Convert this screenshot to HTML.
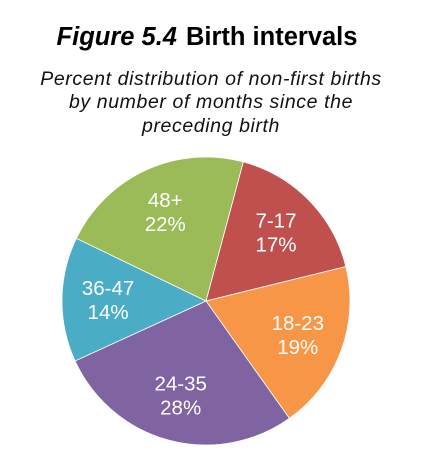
<!DOCTYPE html>
<html><head><meta charset="utf-8"><style>
body{margin:0;width:430px;height:458px;background:#fff;font-family:"Liberation Sans",Arial,sans-serif;overflow:hidden}
</style></head><body>
<svg width="430" height="458">
<text x="207" y="45" text-anchor="middle" font-size="25.5" font-weight="bold" fill="#000"><tspan font-style="italic">Figure 5.4</tspan><tspan dx="9">Birth intervals</tspan></text>
<g font-size="19.5" font-style="italic" fill="#111" text-anchor="middle" letter-spacing="0.6">
<text x="211" y="85">Percent distribution of non-first births</text>
<text x="211" y="108">by number of months since the</text>
<text x="211" y="132">preceding birth</text>
</g>
<g id="pie"></g>
</svg>
<script>
const categories=["7-17","18-23","24-35","36-47","48+"];
const values=[17,19,28,14,22];
const colors=["#c0504d","#f79646","#8064a2","#4bacc6","#9bbb59"];
const cx=206,cy=301,r=144,startDeg=15;
const g=document.getElementById('pie');
const NS="http://www.w3.org/2000/svg";
const total=values.reduce((a,b)=>a+b,0);
function pt(deg,rad){const a=deg*Math.PI/180;return [cx+rad*Math.sin(a),cy-rad*Math.cos(a)];}
let ang=startDeg;
values.forEach((v,i)=>{
 const sweep=v/total*360;
 const [x1,y1]=pt(ang,r),[x2,y2]=pt(ang+sweep,r);
 const p=document.createElementNS(NS,'path');
 p.setAttribute('d',`M${cx},${cy}L${x1},${y1}A${r},${r} 0 ${sweep>180?1:0} 1 ${x2},${y2}Z`);
 p.setAttribute('fill',colors[i]);p.setAttribute('stroke','#fff');p.setAttribute('stroke-width','0.8');
 
 
 g.appendChild(p);
 const [lx,ly]=pt(ang+sweep/2,r*0.68);
 const t=document.createElementNS(NS,'text');
 t.setAttribute('x',lx);t.setAttribute('y',ly-5);t.setAttribute('fill','#fff');
 t.setAttribute('font-size','20.5');t.setAttribute('text-anchor','middle');
 
 
 t.innerHTML=`<tspan x="${lx}">${categories[i]}</tspan><tspan x="${lx}" dy="24">${v}%</tspan>`;
 g.appendChild(t);
 ang+=sweep;
});
</script>
</body></html>
